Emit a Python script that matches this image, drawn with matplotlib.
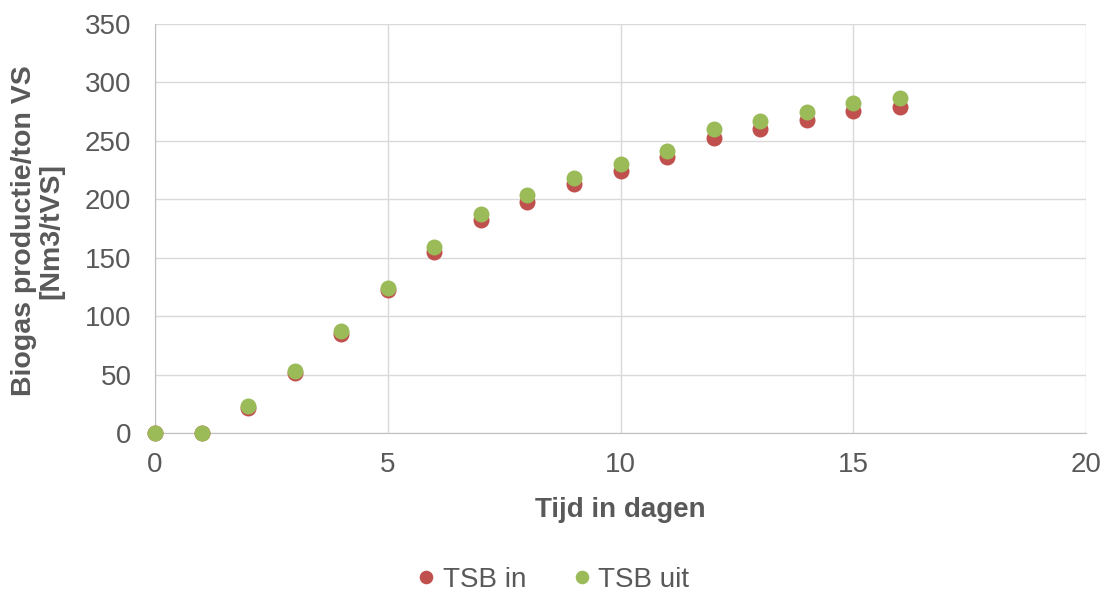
import numpy as np
import matplotlib.pyplot as plt

plt.rcParams['font.family'] = ['Liberation Sans', 'DejaVu Sans']

dagen = np.arange(0, 17)
tsb_in = [0, 0, 21, 51, 84.5, 122, 154.5, 182.5, 197.5, 213, 224.5, 236, 252.5, 260, 268, 275.5, 279]
tsb_uit = [0, 0, 23.5, 53, 87, 124.5, 159.5, 187, 203.5, 218.5, 230.5, 241.5, 260, 267, 275, 282.5, 287]

grey = '#595959'
fig = plt.figure(figsize=(11.07, 5.96), dpi=100)
ax = fig.add_axes([155/1107, 1-433/596, (1086-155)/1107, (433-24)/596])

ax.plot(dagen, tsb_in, 'o', color='#C0504D', ms=11.5, mec='none', label='TSB in', clip_on=False, zorder=3)
ax.plot(dagen, tsb_uit, 'o', color='#9BBB59', ms=11.5, mec='none', label='TSB uit', clip_on=False, zorder=4)

ax.set_xlim(0, 20)
ax.set_ylim(0, 350)
ax.set_xticks(np.arange(0, 21, 5))
ax.set_yticks(np.arange(0, 351, 50))
ax.grid(True, color='#D9D9D9', lw=1)
ax.set_axisbelow(True)
for s in ['top', 'right']:
    ax.spines[s].set_visible(False)
for s in ['left', 'bottom']:
    ax.spines[s].set_color('#BFBFBF')
ax.tick_params(length=0, labelsize=20, labelcolor=grey)
ax.tick_params(axis='x', pad=14)
ax.tick_params(axis='y', pad=17)

ax.set_xlabel('Tijd in dagen', fontsize=20, fontweight='bold', color=grey)
ax.xaxis.set_label_coords(0.5, -0.188)
ax.xaxis.label.set_va('center')
ax.set_ylabel('Biogas productie/ton VS\n[Nm3/tVS]', fontsize=20.5, fontweight='bold', color=grey,
              linespacing=1.05)
ax.yaxis.set_label_coords(-0.126, 0.494)
ax.yaxis.label.set_va('center')

leg = fig.legend(loc='center', bbox_to_anchor=(0.5, 1-580/596), ncol=2, frameon=False,
                 fontsize=20, markerscale=0.85, handlelength=0.6, handletextpad=0.3, columnspacing=1.7)
for t in leg.get_texts():
    t.set_color(grey)

plt.savefig('out.png', dpi=100)
plt.close()
